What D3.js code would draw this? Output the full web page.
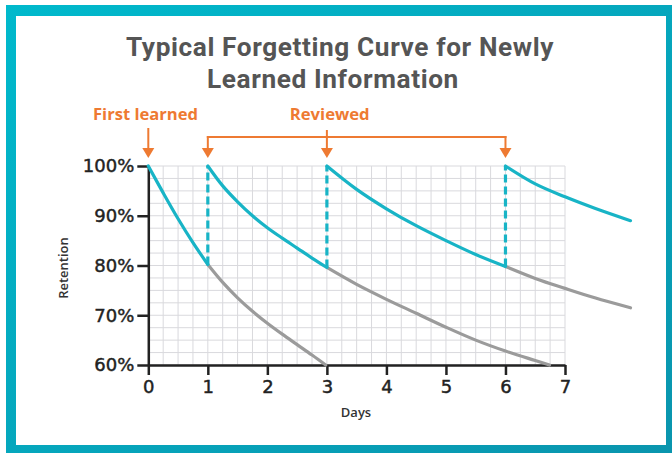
<!DOCTYPE html>
<html>
<head>
<meta charset="utf-8">
<script src="https://cdn.jsdelivr.net/npm/d3@7"></script>
<style>
  html, body { margin: 0; padding: 0; background: #fff; }
  svg { display: block; }
</style>
</head>
<body>
<svg id="chart" width="672" height="453"></svg>
<script>
// axis ticks
const days = [0, 1, 2, 3, 4, 5, 6, 7];
const retentionTicks = [60, 70, 80, 90, 100];
const reviewDays = [1, 3, 6];

// [day, retention %]
const learnCurve = [[0, 100], [0.25, 94.6], [0.5, 89.4], [0.75, 84.6], [1, 80.2]];
const review1Curve = [[1, 100], [1.25, 96], [1.5, 92.8], [1.75, 90], [2, 87.6], [2.25, 85.5], [2.5, 83.5], [2.75, 81.5], [3, 79.6]];
const review2Curve = [[3, 100], [3.5, 95.3], [4, 91.4], [4.5, 88], [5, 85], [5.5, 82.2], [6, 79.8]];
const review3Curve = [[6, 100], [6.5, 96.4], [7, 93.8], [7.5, 91.5], [8.1, 89]];

const decay0 = [[1, 80.2], [1.25, 76.6], [1.5, 73.5], [1.75, 70.8], [2, 68.4], [2.25, 66.2], [2.5, 64.1], [2.75, 62], [2.98, 60]];
const decay1 = [[3, 79.6], [3.5, 76.2], [4, 73.2], [4.5, 70.4], [5, 67.6], [5.5, 65], [6, 62.8], [6.5, 60.9], [6.74, 60]];
const decay2 = [[6, 79.8], [6.5, 77.4], [7, 75.4], [7.5, 73.5], [8.1, 71.5]];

const teal = '#18b4c6', gray = '#9b9b9b', orange = '#ee7a32', ink = '#222';

const svg = d3.select('#chart');

// frame
const defs = svg.append('defs');
const grad = defs.append('linearGradient').attr('id', 'frame')
  .attr('x1', 0).attr('y1', 0).attr('x2', 1).attr('y2', 1);
grad.append('stop').attr('offset', '0%').attr('stop-color', '#00b9cc');
grad.append('stop').attr('offset', '100%').attr('stop-color', '#0a94ad');
svg.append('rect').attr('x', 6).attr('y', 5).attr('width', 680).attr('height', 460).attr('fill', 'url(#frame)');
svg.append('rect').attr('x', 16).attr('y', 16).attr('width', 650).attr('height', 429).attr('fill', '#fff');

// fit a text element to a measured width
function fit(sel, target) {
  const size = parseFloat(sel.attr('font-size'));
  const w = sel.node().getComputedTextLength();
  if (w > 0) sel.attr('font-size', (size * target / w).toFixed(2));
  return sel;
}

// title: both lines share the size that makes the first line 432px wide
const title = svg.append('g').attr('fill', '#555').attr('font-family', 'Roboto, sans-serif')
  .attr('font-weight', 700).attr('letter-spacing', 0.6);
const t1 = fit(title.append('text').attr('x', 340).attr('y', 56).attr('text-anchor', 'middle').attr('font-size', 22)
  .text('Typical Forgetting Curve for Newly'), 432);
title.append('text').attr('x', 333).attr('y', 88).attr('text-anchor', 'middle').attr('font-size', t1.attr('font-size'))
  .text('Learned Information');

const x = d3.scaleLinear().domain([0, 7]).range([148.3, 565]);
const y = d3.scaleLinear().domain([60, 100]).range([365, 166]);

// grid
const grid = svg.append('g').attr('stroke', '#d9d9dd').attr('stroke-width', 1);
grid.selectAll('line.v').data(d3.range(0, 7.001, 0.25)).join('line')
  .attr('x1', d => x(d)).attr('x2', d => x(d)).attr('y1', y(60)).attr('y2', y(100));
grid.selectAll('line.h').data(d3.range(60, 100.001, 2.5)).join('line')
  .attr('x1', x(0)).attr('x2', x(7)).attr('y1', d => y(d)).attr('y2', d => y(d));

// axes
const tickFont = 'DejaVu Sans, sans-serif';
const yAxis = d3.axisLeft(y).tickValues(retentionTicks).tickSize(11).tickSizeOuter(0).tickPadding(3)
  .tickFormat(d => d + '%');
const xAxis = d3.axisBottom(x).tickValues(days).tickSize(10).tickSizeOuter(0).tickPadding(3)
  .tickFormat(d3.format('d'));

const gy = svg.append('g').attr('transform', `translate(${x(0)},0)`).call(yAxis);
const gx = svg.append('g').attr('transform', `translate(0,${y(60)})`).call(xAxis);
[gx, gy].forEach(g => {
  g.select('.domain').attr('stroke', ink).attr('stroke-width', 2.5);
  g.selectAll('.tick line').attr('stroke', ink).attr('stroke-width', 2.5);
  g.selectAll('.tick text').attr('fill', ink).attr('font-family', tickFont)
    .attr('font-size', 18).attr('stroke', ink).attr('stroke-width', 0.45);
});
gx.selectAll('.tick text').attr('dy', '0.85em');

svg.append('text').attr('x', 356).attr('y', 417).attr('text-anchor', 'middle')
  .attr('font-family', 'Open Sans, sans-serif').attr('font-weight', 600).attr('font-size', 13)
  .attr('fill', '#333').text('Days');
svg.append('text').attr('transform', 'translate(68,268) rotate(-90)').attr('text-anchor', 'middle')
  .attr('font-family', 'Open Sans, sans-serif').attr('font-weight', 600).attr('font-size', 13)
  .attr('fill', '#333').text('Retention');

// curves
const line = d3.line().x(d => x(d[0])).y(d => y(d[1])).curve(d3.curveCatmullRom.alpha(0.5));
const curves = svg.append('g').attr('fill', 'none').attr('stroke-width', 3.2).attr('stroke-linecap', 'round');
[decay0, decay1, decay2].forEach(c => curves.append('path').attr('d', line(c)).attr('stroke', gray));
[learnCurve, review1Curve, review2Curve, review3Curve].forEach(c => curves.append('path').attr('d', line(c)).attr('stroke', teal));

// review jumps
const ends = [learnCurve, review1Curve, review2Curve];
curves.selectAll('line.jump').data(reviewDays).join('line')
  .attr('x1', d => x(d)).attr('x2', d => x(d))
  .attr('y1', (d, i) => y(ends[i][ends[i].length - 1][1])).attr('y2', y(100))
  .attr('stroke', teal).attr('stroke-dasharray', '8 4').attr('stroke-linecap', 'butt');

// annotations
const ann = svg.append('g');
const tipY = 158, barY = 137;
function arrow(px, top) {
  ann.append('line').attr('x1', px).attr('x2', px).attr('y1', top).attr('y2', tipY - 8)
    .attr('stroke', orange).attr('stroke-width', 2);
  ann.append('path').attr('d', `M${px - 6},${tipY - 10}L${px + 6},${tipY - 10}L${px},${tipY}Z`).attr('fill', orange);
}
arrow(x(0), 128);
arrow(x(1), barY - 1);
arrow(x(3), 130);
arrow(x(6), barY - 1);
ann.append('line').attr('x1', x(1) - 1).attr('x2', x(6) + 1).attr('y1', barY).attr('y2', barY)
  .attr('stroke', orange).attr('stroke-width', 2);

const annText = ann.append('g').attr('fill', orange).attr('font-family', 'Open Sans, sans-serif').attr('font-weight', 700);
fit(annText.append('text').attr('x', 145.5).attr('y', 120).attr('text-anchor', 'middle').attr('font-size', 14)
  .text('First learned'), 105);
fit(annText.append('text').attr('x', 329.7).attr('y', 120).attr('text-anchor', 'middle').attr('font-size', 14)
  .text('Reviewed'), 80);
</script>
</body>
</html>
